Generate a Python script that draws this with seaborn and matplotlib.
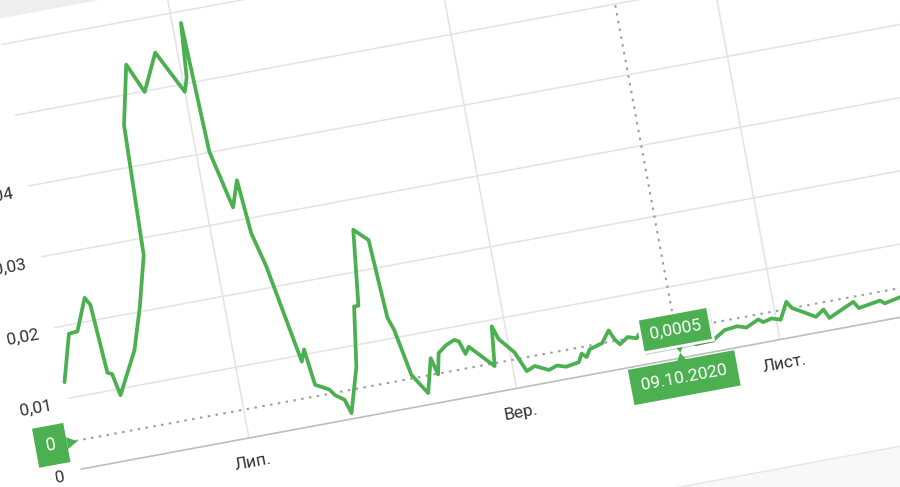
import numpy as np
import pandas as pd
import matplotlib
matplotlib.use("Agg")
import matplotlib.pyplot as plt
import matplotlib.dates as mdates
import matplotlib.patheffects as pe
from matplotlib.transforms import Affine2D
import seaborn as sns

# ------------------------------------------------------------------ #
# Дані
# ------------------------------------------------------------------ #
dates = [
    "2020-05-23", "2020-05-26", "2020-05-28", "2020-05-31", "2020-06-01",
    "2020-06-02", "2020-06-03", "2020-06-04", "2020-06-09", "2020-06-12",
    "2020-06-15", "2020-06-16", "2020-06-19", "2020-06-22", "2020-06-26",
    "2020-07-01", "2020-07-02", "2020-07-03", "2020-07-04", "2020-07-07",
    "2020-07-09", "2020-07-10", "2020-07-12", "2020-07-16", "2020-07-17",
    "2020-07-18", "2020-07-21", "2020-07-22", "2020-07-24", "2020-07-25",
    "2020-07-28", "2020-07-30", "2020-07-31", "2020-08-02", "2020-08-05",
    "2020-08-06", "2020-08-07", "2020-08-09", "2020-08-12", "2020-08-14",
    "2020-08-15", "2020-08-16", "2020-08-18", "2020-08-20", "2020-08-21",
    "2020-08-22", "2020-08-23", "2020-08-28", "2020-08-29", "2020-08-30",
    "2020-09-02", "2020-09-04", "2020-09-06", "2020-09-09", "2020-09-11",
    "2020-09-13", "2020-09-16", "2020-09-17", "2020-09-18", "2020-09-19",
    "2020-09-22", "2020-09-24", "2020-09-25", "2020-09-26", "2020-09-28",
    "2020-09-30", "2020-10-01", "2020-10-04", "2020-10-07", "2020-10-09",
    "2020-10-11", "2020-10-13", "2020-10-17", "2020-10-20", "2020-10-23",
    "2020-10-25", "2020-10-28", "2020-10-29", "2020-10-31", "2020-11-02",
    "2020-11-04", "2020-11-05", "2020-11-07", "2020-11-10", "2020-11-12",
    "2020-11-13", "2020-11-16", "2020-11-19", "2020-11-20", "2020-11-22",
    "2020-11-25", "2020-11-26", "2020-11-30", "2020-12-03",
]
values = [
    0.0123, 0.0188, 0.0189, 0.0233, 0.0222,
    0.0125, 0.0122, 0.0091, 0.0149, 0.0207,
    0.0276, 0.0459, 0.0541, 0.0499, 0.0550,
    0.0489, 0.0508, 0.0584, 0.0401, 0.0319,
    0.0355, 0.0279, 0.0230, 0.0091, 0.0107,
    0.0056, 0.0046, 0.0037, 0.0028, 0.0008,
    0.0070, 0.0153, 0.0153, 0.0258, 0.0240,
    0.0129, 0.0111, 0.0045, 0.0016, 0.0063,
    0.0039, 0.0068, 0.0077, 0.0082, 0.0079,
    0.0060, 0.0069, 0.0036, 0.0091, 0.0072,
    0.0050, 0.0021, 0.0026, 0.0017, 0.0021,
    0.0017, 0.0020, 0.0031, 0.0025, 0.0035,
    0.0040, 0.0056, 0.0042, 0.0034, 0.0042,
    0.0038, 0.0046, 0.0050, 0.0048, 0.0040,
    0.0032, 0.0015, 0.0016, 0.0027, 0.0029,
    0.0025, 0.0033, 0.0028, 0.0031, 0.0027,
    0.0050, 0.0040, 0.0033, 0.0022, 0.0030,
    0.0017, 0.0025, 0.0033, 0.0023, 0.0025,
    0.0028, 0.0023, 0.0028, 0.0032,
]

grid_values = [0.01, 0.02, 0.03, 0.04, 0.05, 0.06]
y_ticks = [0, 0.01, 0.02, 0.03, 0.04]
y_tick_labels = ["0", "0,01", "0,02", "0,03", "0,04"]
x_ticks = ["2020-07-01", "2020-09-01", "2020-11-01"]
x_tick_labels = ["Лип.", "Вер.", "Лист."]

hover_date = "2020-10-09"
hover_value = 0.004
hover_text = "0,0005"
hover_date_text = "09.10.2020"
hover_axis_text = "0"

# ------------------------------------------------------------------ #
# Геометрія (знімок екрана повернутий приблизно на 10,5°)
# ------------------------------------------------------------------ #
W, H = 900, 487
PX_PER_DAY = 4.39
PX_PER_UNIT = 7200
ORIGIN = (249, 49)          # піксель, де лежить (1 липня, 0)
ANGLE = 10.5
GREEN = "#4caf50"
GRID = "#e3e3e3"
TEXT = "#333333"

sns.set_style("white")
plt.rcParams["font.family"] = ["Roboto", "DejaVu Sans"]

df = pd.DataFrame({"date": pd.to_datetime(dates), "value": values})

fig = plt.figure(figsize=(W / 100, H / 100), dpi=100)
ax = fig.add_axes([0, 0, 1, 1])
ax.set_axis_off()

sns.lineplot(data=df, x="date", y="value", ax=ax, color=GREEN,
             linewidth=2.7, zorder=5)

num = lambda d: mdates.date2num(pd.Timestamp(d))
origin_num = num("2020-07-01")
x0 = origin_num - ORIGIN[0] / PX_PER_DAY
y0 = -ORIGIN[1] / PX_PER_UNIT

rot = Affine2D().rotate_deg_around(ORIGIN[0], ORIGIN[1], ANGLE)
tr = ax.transData + rot

for line in ax.lines:
    line.set_transform(tr)

left = num(dates[0])
right = num("2021-02-28")
top = 0.0636
bottom = -0.0176

# межі картки (сірі поля зверху та знизу)
ax.fill_between([left - 200, right], top, 0.2, color="#eeeeee",
                lw=0, transform=tr, zorder=0)
ax.fill_between([left - 200, right], -0.2, bottom, color="#f8f8f8",
                lw=0, transform=tr, zorder=0)
ax.hlines([bottom], left - 200, right, colors="#e6e6e6", lw=1,
          transform=tr, zorder=0)

# сітка
ax.hlines(grid_values, left, right, colors=GRID, lw=1.1, transform=tr, zorder=1)
ax.vlines([num(d) for d in x_ticks], 0, top, colors=GRID, lw=1.1,
          transform=tr, zorder=1)
ax.hlines([0], left, right, colors="#bdbdbd", lw=1.2, transform=tr, zorder=2)

# перехрестя курсора
hx = num(hover_date)
ax.hlines([hover_value], left, right, colors="#9e9e9e", lw=1.5,
          linestyles=(0, (1.2, 2.6)), transform=tr, zorder=3)
ax.vlines([hx], 0, top, colors="#9e9e9e", lw=1.5,
          linestyles=(0, (1.2, 2.6)), transform=tr, zorder=3)

# підписи осей
for v, lab in zip(y_ticks, y_tick_labels):
    ax.text(left - 3.8, v - 0.0006, lab, transform=tr, rotation=ANGLE,
            rotation_mode="anchor", ha="right", va="center",
            fontsize=12.5, color=TEXT)
for d, lab in zip(x_ticks, x_tick_labels):
    ax.text(num(d), -0.0034, lab, transform=tr, rotation=ANGLE,
            rotation_mode="anchor", ha="center", va="center",
            fontsize=12.5, color=TEXT)

# бейджі
def badge(x, y, s, pad=0.5, size=12.5, edge=None):
    t = ax.text(x, y, s, transform=tr, rotation=ANGLE, rotation_mode="anchor",
                ha="center", va="center", color="white", fontsize=size,
                zorder=12,
                bbox=dict(boxstyle=f"square,pad={pad}", fc=GREEN,
                          ec=edge or GREEN, lw=2 if edge else 0))
    return t

tip = badge(hx, hover_value, hover_text, pad=0.55, edge="white")
tip.get_bbox_patch().set_path_effects(
    [pe.withSimplePatchShadow(offset=(1.5, -1.5), alpha=0.25)])
ax.plot([hx], [11 / PX_PER_UNIT], marker=(3, 0, 180 + ANGLE), ms=10,
        color=GREEN, mec="white", mew=1.2, transform=tr, zorder=11)

badge(hx, -20 / PX_PER_UNIT, hover_date_text, pad=0.6)
ax.plot([hx], [-1 / PX_PER_UNIT], marker=(3, 0, ANGLE), ms=10,
        color=GREEN, mew=0, transform=tr, zorder=11)

badge(left - 5.6, hover_value, hover_axis_text, pad=0.6, size=13)
ax.plot([left - 1.3], [hover_value], marker=(3, 0, -90 + ANGLE), ms=10,
        color=GREEN, mew=0, transform=tr, zorder=11)

ax.set_xlim(x0, x0 + W / PX_PER_DAY)
ax.set_ylim(y0, y0 + H / PX_PER_UNIT)

fig.savefig("out.png", dpi=100)
